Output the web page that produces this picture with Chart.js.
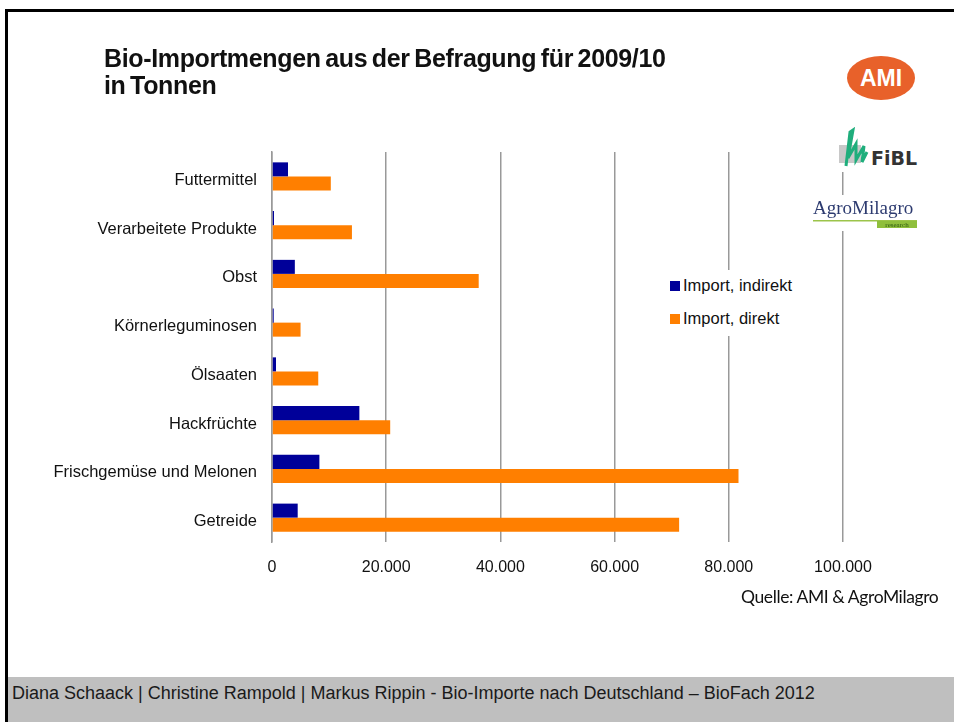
<!DOCTYPE html>
<html>
<head>
<meta charset="utf-8">
<script src="https://cdn.jsdelivr.net/npm/chart.js@4/dist/chart.umd.min.js"></script>
<style>
  body { margin: 0; background: #fff; }
  .slide { position: relative; width: 954px; height: 722px; overflow: hidden; background: #fff; font-family: "Liberation Sans", Arial, sans-serif; color: #111; }
  .slide canvas { position: absolute; left: 0; top: 0; }
  .border-top { position: absolute; left: 5px; top: 9px; width: 949px; height: 3px; background: #000; }
  .border-left { position: absolute; left: 5px; top: 9px; width: 3px; height: 713px; background: #000; }
  .title { position: absolute; left: 104px; top: 45px; font-weight: bold; font-size: 25px; line-height: 27px; letter-spacing: -0.35px; word-spacing: -2px; }
  .footer { position: absolute; left: 8px; top: 677px; width: 946px; height: 45px; background: #bfbfbf; font-size: 18px; line-height: 32px; padding-left: 4px; box-sizing: border-box; color: #1a1a1a; }
  .source { position: absolute; left: 741px; top: 586px; font-family: Lato, "Open Sans", sans-serif; font-size: 17.5px; letter-spacing: -0.4px; }
  .legend { position: absolute; left: 664px; top: 270px; width: 140px; height: 66px; background: #fff; font-size: 16.5px; }
  .legend div { position: absolute; left: 6px; white-space: nowrap; }
  .legend span { display: inline-block; width: 10px; height: 10px; margin-right: 3px; vertical-align: 0px; }
  .logo { position: absolute; background: #fff; }
</style>
</head>
<body>
<div class="slide">
  <canvas id="chart" width="954" height="722"></canvas>
  <div class="border-top"></div>
  <div class="border-left"></div>
  <div class="title">Bio-Importmengen aus der Befragung für 2009/10<br>in Tonnen</div>
  <div class="legend js-legend"></div>
  <div class="source">Quelle: AMI &amp; AgroMilagro</div>
  <div class="footer">Diana Schaack | Christine Rampold | Markus Rippin - Bio-Importe nach Deutschland – BioFach 2012</div>

  <!-- logos, rough copies -->
  <svg class="logo" style="left:846px;top:54px" width="72" height="48">
    <ellipse cx="35" cy="24" rx="34" ry="22" fill="#e8612a"/>
    <text x="35" y="32" text-anchor="middle" font-family="Liberation Sans" font-weight="bold" font-size="23" fill="#fff">AMI</text>
  </svg>
  <svg class="logo" style="left:836px;top:122px" width="86" height="50">
    <rect x="3" y="23" width="22" height="18" fill="#c8c8c8"/>
    <path d="M10 44 L14 10 L17 8 L12 36 L20 22 L20 38 L28 24 L26 40 L31 30" stroke="#1fae7c" stroke-width="3" fill="none"/>
    <text x="35" y="43" font-family="DejaVu Sans" font-weight="bold" font-size="19" fill="#333">FiBL</text>
  </svg>
  <svg class="logo" style="left:810px;top:195px" width="110" height="36">
    <text x="3" y="19" font-family="Liberation Serif" font-size="19" fill="#2d3b70">AgroMilagro</text>
    <rect x="3" y="25" width="104" height="1.5" fill="#9cc44a"/>
    <rect x="67" y="26" width="40" height="7" fill="#8fbf3c"/>
    <text x="87" y="32" text-anchor="middle" font-family="Liberation Serif" font-size="7" fill="#2d5a10">research</text>
  </svg>
</div>

<script>
// values (tonnes)
const categories = ['Futtermittel', 'Verarbeitete Produkte', 'Obst', 'Körnerleguminosen', 'Ölsaaten', 'Hackfrüchte', 'Frischgemüse und Melonen', 'Getreide'];
const importIndirekt = [2800, 350, 4000, 300, 700, 15300, 8300, 4500];
const importDirekt = [10300, 14000, 36200, 5000, 8100, 20700, 81700, 71300];
const seriesNames = ['Import, indirekt', 'Import, direkt'];
const seriesColors = ['#000099', '#ff7f00'];
const xTicks = [0, 20000, 40000, 60000, 80000, 100000];

const fmt = (v) => String(v).replace(/\B(?=(\d{3})+(?!\d))/g, '.');

const data = {
    labels: categories,
    datasets: [{
        label: seriesNames[0],
        backgroundColor: seriesColors[0],
        data: importIndirekt
    }, {
        label: seriesNames[1],
        backgroundColor: seriesColors[1],
        data: importDirekt
    }]
};

const config = {
    type: 'bar',
    data: data,
    options: {
        indexAxis: 'y',
        responsive: false,
        animation: false,
        categoryPercentage: 0.575,
        barPercentage: 1,
        layout: {
            padding: { left: 0, top: 152, right: 111, bottom: 0 }
        },
        plugins: {
            legend: false,
            tooltip: false
        },
        scales: {
            x: {
                min: xTicks[0],
                max: xTicks[xTicks.length - 1],
                afterBuildTicks: (scale) => {
                    scale.ticks = xTicks.map(v => ({ value: v }));
                },
                afterFit: (scale) => { scale.height = 180; },
                border: { display: false },
                grid: {
                    color: '#999',
                    lineWidth: 1.5,
                    drawTicks: false
                },
                ticks: {
                    color: '#111',
                    padding: 16,
                    maxRotation: 0,
                    font: { family: 'Liberation Sans', size: 16 },
                    callback: (v) => fmt(v)
                }
            },
            y: {
                afterFit: (scale) => { scale.width = 272; },
                border: { display: true, color: '#999', width: 1.5 },
                grid: { display: false, drawTicks: false },
                ticks: {
                    color: '#111',
                    padding: 15,
                    labelOffset: 4,
                    font: { family: 'Liberation Sans', size: 16.5 }
                }
            }
        }
    }
};

document.addEventListener('DOMContentLoaded', function() {
    const legend = document.querySelector('.js-legend');
    seriesNames.forEach((name, i) => {
        const row = document.createElement('div');
        row.style.top = (i == 0 ? 6 : 39) + 'px';
        row.innerHTML = `<span style="background:${seriesColors[i]}"></span>${name}`;
        legend.appendChild(row);
    });

    const ctx = document.getElementById('chart').getContext('2d');
    new Chart(ctx, config);
});
</script>
</body>
</html>
